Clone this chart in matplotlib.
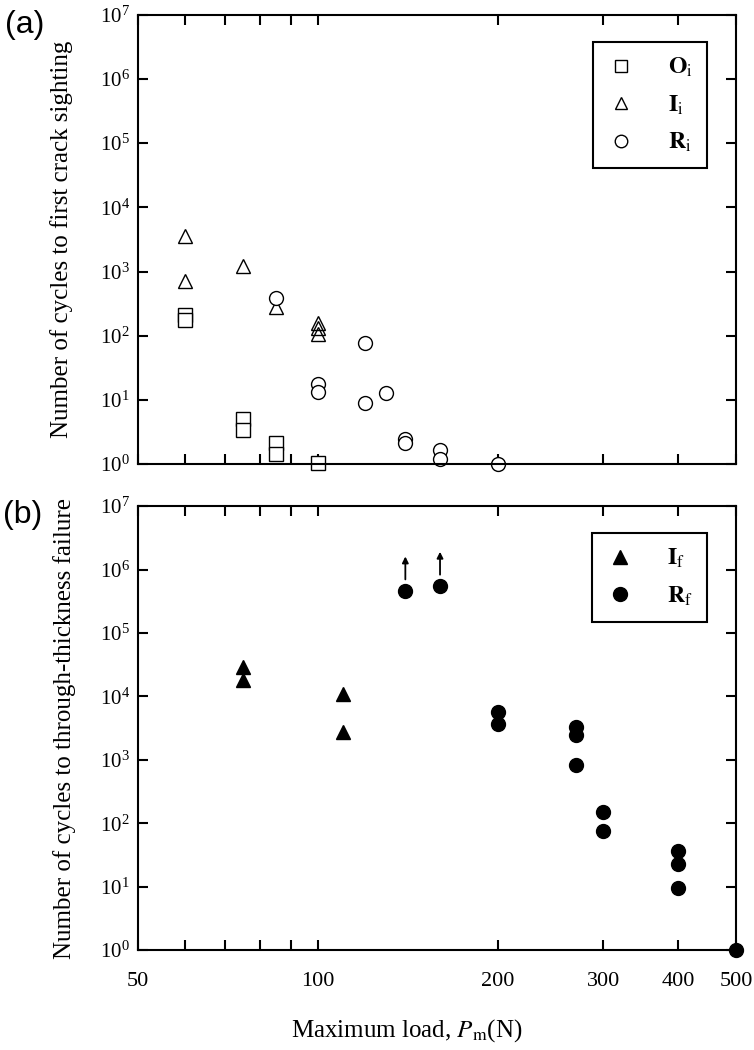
import matplotlib
matplotlib.use("Agg")
import matplotlib.pyplot as plt
import matplotlib.transforms as mtransforms
from matplotlib.lines import Line2D
from matplotlib.ticker import FixedLocator, FixedFormatter, NullLocator, LogLocator, LogFormatterMathtext

plt.rcParams['font.family'] = ['Liberation Serif', 'DejaVu Serif']
plt.rcParams['mathtext.fontset'] = 'stix'

# ---- Panel (a) data: cycles to first crack sighting ----
Oi_load = [60, 60, 75, 75, 85, 85, 100]
Oi_cycles = [210, 175, 5.0, 3.4, 2.1, 1.45, 1.05]
Ii_load = [60, 60, 75, 85, 100, 100, 100]
Ii_cycles = [3600, 720, 1200, 280, 155, 130, 105]
Ri_load = [85, 100, 100, 120, 120, 130, 140, 140, 160, 160, 200]
Ri_cycles = [390, 17.5, 13.4, 78, 8.8, 12.6, 2.5, 2.1, 1.65, 1.18, 1.0]

# ---- Panel (b) data: cycles to through-thickness failure ----
If_load = [75, 75, 110, 110]
If_cycles = [29000, 18000, 10700, 2700]
Rf_load = [140, 160, 200, 200, 270, 270, 270, 300, 300, 400, 400, 400, 500]
Rf_cycles = [455000, 540000, 5600, 3600, 3300, 2500, 815, 150, 75, 37, 23, 9.5, 1.0]
runout_load = [140, 160]
runout_cycles = [455000, 540000]

xticks = [50, 60, 70, 80, 90, 100, 200, 300, 400, 500]
xticklabels = ['50', '', '', '', '', '100', '200', '300', '400', '500']

fig = plt.figure(figsize=(7.54, 10.5), dpi=100)
axa = fig.add_axes([0.183, 0.558, 0.793, 0.428])
axb = fig.add_axes([0.183, 0.0952, 0.793, 0.4228])

ms = 10
for ax in (axa, axb):
    ax.set_xscale('log')
    ax.set_yscale('log')
    ax.set_xlim(50, 500)
    ax.set_ylim(1, 1e7)
    ax.xaxis.set_major_locator(FixedLocator(xticks))
    ax.xaxis.set_major_formatter(FixedFormatter(xticklabels))
    ax.xaxis.set_minor_locator(NullLocator())
    ax.yaxis.set_major_locator(LogLocator(base=10, numticks=10))
    ax.yaxis.set_major_formatter(LogFormatterMathtext())
    ax.yaxis.set_minor_locator(NullLocator())
    ax.tick_params(which='both', direction='in', top=True, right=True,
                   length=7, width=1.5)
    ax.tick_params(axis='y', labelsize=15, pad=6)
    ax.tick_params(axis='x', labelsize=16, pad=16)
    for s in ax.spines.values():
        s.set_linewidth(1.5)

axa.tick_params(labelbottom=False)

# Panel (a)
axa.plot(Oi_load, Oi_cycles, ls='none', marker='s', ms=ms, mfc='white', mec='k', mew=1.0, clip_on=False)
axa.plot(Ii_load, Ii_cycles, ls='none', marker='^', ms=ms, mfc='none', mec='k', mew=1.0, clip_on=False)
axa.plot(Ri_load, Ri_cycles, ls='none', marker='o', ms=ms, mfc='white', mec='k', mew=1.0, clip_on=False)

# Panel (b)
axb.plot(If_load, If_cycles, ls='none', marker='^', ms=ms, mfc='k', mec='k', clip_on=False)
axb.plot(Rf_load, Rf_cycles, ls='none', marker='o', ms=ms, mfc='k', mec='k', clip_on=False)
for xl, yc in zip(runout_load, runout_cycles):
    tip = mtransforms.offset_copy(axb.transData, fig=fig, x=0, y=25, units='points')
    base = mtransforms.offset_copy(axb.transData, fig=fig, x=0, y=8.5, units='points')
    axb.annotate('', xy=(xl, yc), xycoords=tip, xytext=(xl, yc), textcoords=base,
                 arrowprops=dict(arrowstyle='-|>', color='k', lw=1.3,
                                 mutation_scale=9, shrinkA=0, shrinkB=0))

# Legends
ha = [Line2D([], [], ls='none', marker='s', ms=9, mfc='white', mec='k', mew=1.0),
      Line2D([], [], ls='none', marker='^', ms=9, mfc='none', mec='k', mew=1.0),
      Line2D([], [], ls='none', marker='o', ms=9, mfc='white', mec='k', mew=1.0)]
la = [r'$\mathbf{O}_{\mathrm{i}}$', r'$\mathbf{I}_{\mathrm{i}}$', r'$\mathbf{R}_{\mathrm{i}}$']
lega = axa.legend(ha, la, loc='upper right', bbox_to_anchor=(0.952, 0.94), fontsize=17,
                  frameon=True, fancybox=False, edgecolor='k', framealpha=1,
                  handlelength=1.2, handletextpad=1.4, labelspacing=0.6, borderpad=0.6,
                  borderaxespad=0)
lega.get_frame().set_linewidth(1.5)

hb = [Line2D([], [], ls='none', marker='^', ms=10, mfc='k', mec='k'),
      Line2D([], [], ls='none', marker='o', ms=10, mfc='k', mec='k')]
lb = [r'$\mathbf{I}_{\mathrm{f}}$', r'$\mathbf{R}_{\mathrm{f}}$']
legb = axb.legend(hb, lb, loc='upper right', bbox_to_anchor=(0.952, 0.94), fontsize=17,
                  frameon=True, fancybox=False, edgecolor='k', framealpha=1,
                  handlelength=1.2, handletextpad=1.4, labelspacing=0.6, borderpad=0.6,
                  borderaxespad=0)
legb.get_frame().set_linewidth(1.5)

axa.set_ylabel('Number of cycles to first crack sighting', fontsize=18)
axb.set_ylabel('Number of cycles to through-thickness failure', fontsize=18)
axa.yaxis.set_label_coords(-0.109, 0.5)
axb.yaxis.set_label_coords(-0.103, 0.5)
axb.set_xlabel(r'Maximum load, $P_{\mathrm{m}}$(N)', fontsize=18)
axb.xaxis.set_label_coords(0.45, -0.152)
axb.xaxis.label.set_va('top')

fig.text(0.006, 0.99, '(a)', fontsize=23, family='Liberation Sans', va='top', ha='left')
fig.text(0.004, 0.524, '(b)', fontsize=23, family='Liberation Sans', va='top', ha='left')

fig.savefig('out.png', dpi=100)
